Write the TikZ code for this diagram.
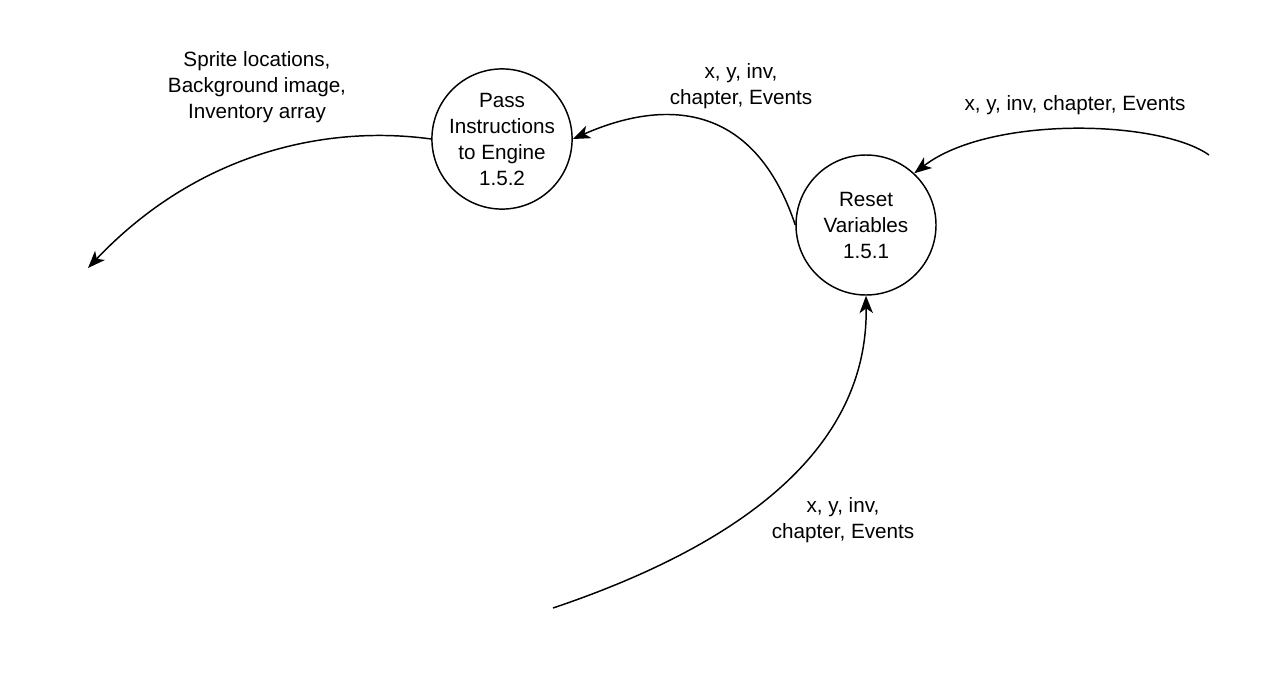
\documentclass[tikz,border=0pt]{standalone}
\usepackage{fontspec}
\setmainfont{Liberation Sans}
\usetikzlibrary{arrows.meta}
\begin{document}
\begin{tikzpicture}[x=0.75pt,y=-0.75pt,
  every node/.style={font=\fontsize{15.5pt}{19.5pt}\selectfont, align=center},
  proc/.style={circle, draw, line width=1.1pt, minimum size=105pt, inner sep=0pt},
  flow/.style={line width=1.1pt, -{Stealth[length=13pt,width=10pt,inset=3.5pt]}},
  lbl/.style={inner sep=0pt}]
\useasboundingbox (0,0) rectangle (1276,678);
\fill[white] (0,0) rectangle (1276,678);

\node[proc] (pass) at (502,139) {Pass\\Instructions\\to Engine\\1.5.2};
\node[proc] (reset) at (866,225) {Reset\\Variables\\1.5.1};

\coordinate (outL) at (88,268);
\coordinate (inR) at (1209,155);
\coordinate (inB) at (553,608);

\draw[flow] (pass.west) .. controls (330,125) and (200,150) .. (outL);
\draw[flow] (reset.west) .. controls (750,90) and (650,105) .. (pass.east);
\draw[flow] (inR) .. controls (1160,120) and (990,115) .. (reset.47);
\draw[flow] (inB) .. controls (740,545) and (868,450) .. (reset.south);

\node[lbl] (l1) at (257,87) {Sprite locations,\\Background image,\\Inventory array};
\node[lbl] (l2) at (741,86) {x, y, inv,\\chapter, Events};
\node[lbl, anchor=base] (l3) at (1075,110) {x, y, inv, chapter, Events};
\node[lbl] (l4) at (843,520) {x, y, inv,\\chapter, Events};
\end{tikzpicture}
\end{document}
